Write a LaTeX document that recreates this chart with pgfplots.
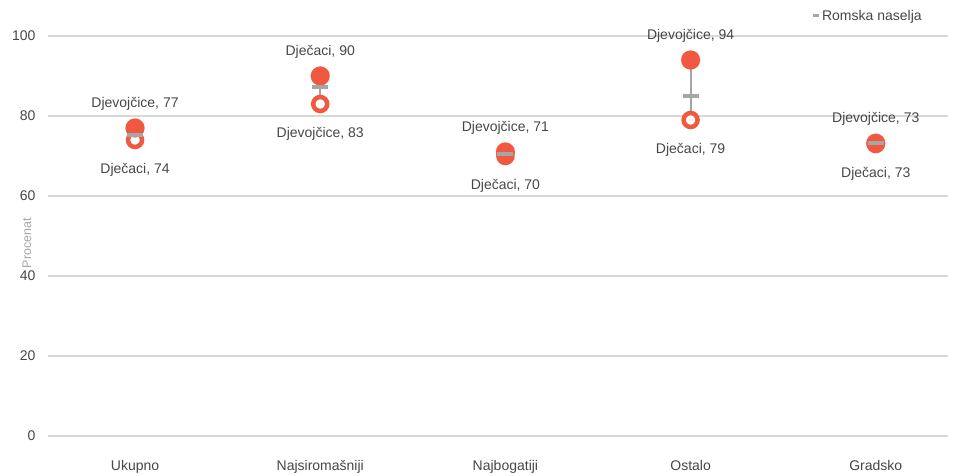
\documentclass[border=0pt]{standalone}
\usepackage{pgfplots}
\pgfplotsset{compat=1.18}
\usepackage{fontspec}
\setmainfont{Liberation Sans}
\definecolor{dotred}{RGB}{240,88,64}
\definecolor{dashgray}{RGB}{166,166,166}
\definecolor{gridgray}{RGB}{217,217,217}
\definecolor{txt}{RGB}{70,70,70}
\begin{document}
\begin{tikzpicture}
\useasboundingbox (0,0) rectangle (956pt,476pt);
\begin{axis}[
  at={(48pt,40pt)}, anchor=south west,
  scale only axis, width=900pt, height=400pt,
  xmin=-0.47, xmax=4.39, ymin=0, ymax=100,
  axis line style={draw=none},
  ytick={0,20,...,100}, ymajorgrids,
  grid style={gridgray, line width=1.5pt},
  xtick={0,...,4},
  xticklabels={Ukupno,Najsiromašniji,Najbogatiji,Ostalo,Gradsko},
  major tick length=0pt,
  tick label style={font=\fontsize{14}{16}\selectfont, text=txt},
  /pgf/number format/assume math mode=true,
  xticklabel style={yshift=-21pt},
  yticklabel style={xshift=-9pt},
  clip=false,
  legend style={at={(axis description cs:0.848,1.05)}, anchor=west,
    draw=none, fill=none, font=\fontsize{14}{16}\selectfont, text=txt,
    inner sep=0pt, legend cell align=left},
  legend image code/.code={\draw[dashgray, line width=3pt] (-0.12cm,0) -- (0.08cm,0);},
  nodes near coords,
  point meta=explicit symbolic,
]
% connecting lines
\addplot[dashgray, line width=2pt, unbounded coords=jump, forget plot, nodes near coords={}] coordinates {
  (0,74) (0,77) (0,nan)
  (1,83) (1,90) (1,nan)
  (2,70) (2,71) (2,nan)
  (3,79) (3,94) (3,nan)
  (4,73) (4,73)
};
% lower values (open circles)
\addplot[only marks, mark=*, mark size=7pt, mark options={draw=dotred, fill=white, line width=4.5pt}, forget plot,
  every node near coord/.append style={anchor=center, yshift=-30pt, font=\fontsize{14}{16}\selectfont, text=txt}]
  table[x=x, y=y, meta=lab, col sep=semicolon, row sep=\\] {
  x;y;lab\\
  0;74;Dječaci, 74\\
  1;83;Djevojčice, 83\\
  2;70;Dječaci, 70\\
  3;79;Dječaci, 79\\
  4;73;Dječaci, 73\\
};
% upper values (filled circles)
\addplot[only marks, mark=*, mark size=9.5pt, mark options={draw=dotred, fill=dotred, line width=0.1pt}, forget plot,
  every node near coord/.append style={anchor=center, yshift=24pt, font=\fontsize{14}{16}\selectfont, text=txt}]
  table[x=x, y=y, meta=lab, col sep=semicolon, row sep=\\] {
  x;y;lab\\
  0;77;Djevojčice, 77\\
  1;90;Dječaci, 90\\
  2;71;Djevojčice, 71\\
  3;94;Djevojčice, 94\\
  4;73.2;Djevojčice, 73\\
};
% Romska naselja average
\addplot[only marks, mark=-, mark size=8pt, mark options={draw=dashgray, line width=3.5pt}, nodes near coords={}] coordinates {
  (0,75.3) (1,87.2) (2,70.5) (3,85) (4,73.2)
};
\addlegendentry{Romska naselja}
\end{axis}
\node[rotate=90, text=dashgray, font=\fontsize{12.5}{14}\selectfont] at (27pt,233pt) {Procenat};
\end{tikzpicture}
\end{document}
